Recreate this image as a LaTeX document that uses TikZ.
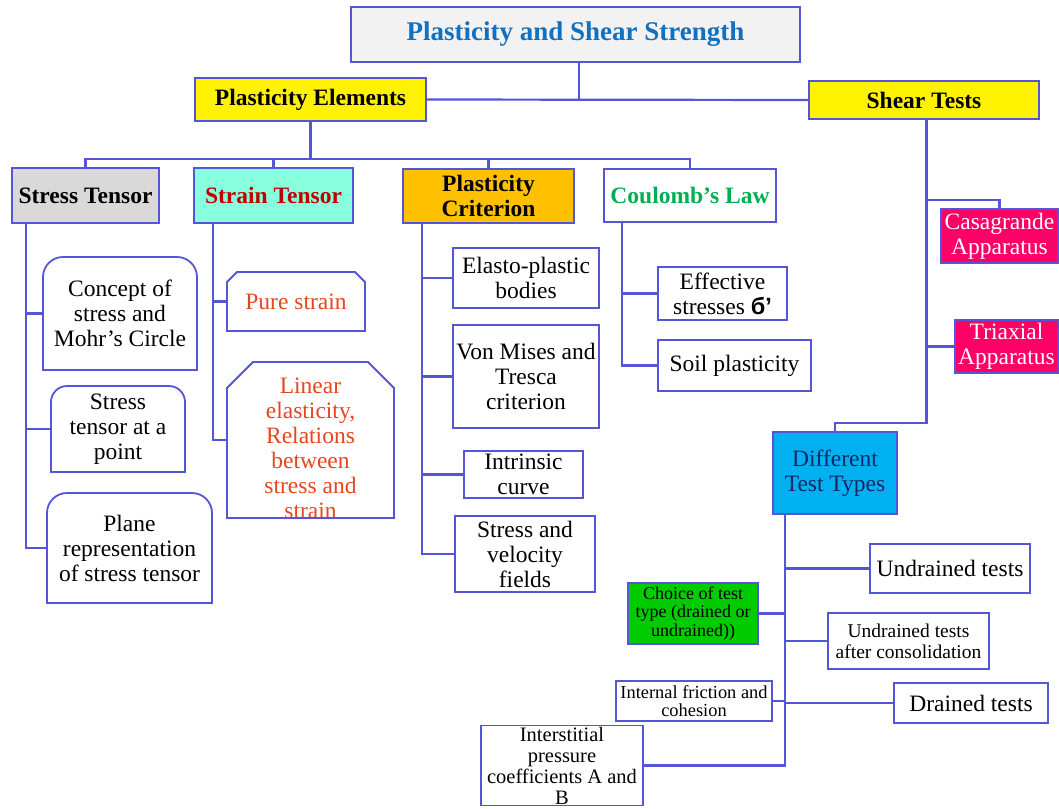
\documentclass[tikz,border=0pt]{standalone}
\usepackage{fontspec}
\setmainfont{Liberation Serif}
\newfontfamily\sansb{Liberation Sans}
\newcommand\fsz[2]{\fontsize{#1}{#2}\selectfont}
\definecolor{lineblue}{RGB}{85,85,215}
\definecolor{titlefill}{RGB}{242,242,242}
\definecolor{titleblue}{RGB}{18,112,192}
\definecolor{stressgray}{RGB}{217,217,217}
\definecolor{aquafill}{RGB}{136,255,221}
\definecolor{darkred}{RGB}{192,0,0}
\definecolor{critorange}{RGB}{255,192,0}
\definecolor{coulgreen}{RGB}{0,176,80}
\definecolor{strainred}{RGB}{230,70,30}
\definecolor{pinkred}{RGB}{255,0,102}
\definecolor{skyfill}{RGB}{0,176,240}
\definecolor{navytext}{RGB}{20,40,100}
\definecolor{brightgreen}{RGB}{0,204,0}
\newcommand\roundtop[2]{%
  \draw[boxline] (#1.south west) -- ([yshift=-#2pt]#1.north west)
    arc[start angle=180,end angle=90,radius=#2pt] -- ([xshift=-#2pt]#1.north east)
    arc[start angle=90,end angle=0,radius=#2pt] -- (#1.south east) -- cycle;}
\newcommand\chamtop[2]{%
  \draw[boxline] (#1.south west) -- ([yshift=-#2pt]#1.north west) -- ([xshift=#2pt]#1.north west)
    -- ([xshift=-#2pt]#1.north east) -- ([yshift=-#2pt]#1.north east) -- (#1.south east) -- cycle;}
\begin{document}
\begin{tikzpicture}[x=1pt,y=1pt,
  conn/.style={draw=lineblue, line width=2.2pt},
  boxline/.style={draw=lineblue, line width=1.8pt},
  box/.style={draw=lineblue, line width=1.8pt, fill=white, inner sep=0pt, outer sep=0pt, align=center, font=\fsz{23.5}{25}},
  shapebox/.style={draw=none, inner sep=0pt, outer sep=0pt, align=center, font=\fsz{23.5}{25}},
  hdr/.style={box, font=\bfseries\fsz{23.5}{25}}]
\fill[white] (0,0) rectangle (1059,-808);
\useasboundingbox (0,0) rectangle (1059,-808);

% top level
\node[hdr, fill=titlefill, text=titleblue, font=\bfseries\fsz{27}{29}, minimum width=449, minimum height=55] (title) at (575.5,-34.5) {Plasticity and Shear Strength};
\node[hdr, fill=yellow, minimum width=231, minimum height=43] (pe) at (310.5,-99.5) {Plasticity Elements};
\node[hdr, fill=yellow, minimum width=230, minimum height=38] (se) at (924,-100) {Shear Tests};

% second level
\node[hdr, fill=stressgray, minimum width=147, minimum height=55] (st) at (85.5,-195.5) {Stress Tensor};
\node[hdr, fill=aquafill, text=darkred, minimum width=159, minimum height=55] (sn) at (273.5,-195.5) {Strain Tensor};
\node[hdr, fill=critorange, minimum width=171, minimum height=54] (pc) at (488.5,-196) {Plasticity\\Criterion};
\node[hdr, text=coulgreen, minimum width=172, minimum height=53] (cl) at (690,-195.5) {Coulomb's Law};

% stress column
\node[shapebox, minimum width=154, minimum height=113] (concept) at (120,-313.5) {Concept of\\stress and\\Mohr's Circle};
\roundtop{concept}{20}
\node[shapebox, minimum width=134, minimum height=86] (spoint) at (118,-429) {Stress\\tensor at a\\point};
\roundtop{spoint}{16}
\node[shapebox, minimum width=165, minimum height=110] (plane) at (129.5,-548) {Plane\\representation\\of stress tensor};
\roundtop{plane}{20}

% strain column
\node[shapebox, text=strainred, minimum width=138, minimum height=59] (pure) at (296,-301.5) {Pure strain};
\chamtop{pure}{10}
\node[shapebox, minimum width=167, minimum height=156,
  label={[shapebox, text=strainred, yshift=-8pt]center:{Linear\\elasticity,\\Relations\\between\\stress and\\strain}}] (linear) at (310.5,-440) {};
\chamtop{linear}{26}

% criterion column
\node[box, minimum width=146, minimum height=60] (elasto) at (526,-278) {Elasto-plastic\\bodies};
\node[box, minimum width=146, minimum height=103] (vonmises) at (526,-376.5) {Von Mises and\\Tresca\\criterion};
\node[box, minimum width=119, minimum height=47] (intrinsic) at (523.5,-474.5) {Intrinsic\\curve};
\node[box, minimum width=140, minimum height=76] (svf) at (525,-554) {Stress and\\velocity\\fields};

% coulomb column
\node[box, minimum width=129, minimum height=53] (eff) at (722.5,-293.5) {Effective\\stresses {\sansb\bfseries б’}};
\node[box, minimum width=153, minimum height=51] (soil) at (734.5,-365.5) {Soil plasticity};

% shear tests
\node[box, fill=pinkred, text=white, minimum width=117, minimum height=54] (cas) at (999.5,-236) {Casagrande\\Apparatus};
\node[box, fill=pinkred, text=white, minimum width=103, minimum height=53] (tri) at (1006.5,-346.5) {Triaxial\\Apparatus};
\node[box, fill=skyfill, text=navytext, minimum width=124, minimum height=82] (dtt) at (835,-473) {Different\\Test Types};
\node[box, minimum width=160, minimum height=49] (und) at (950,-568.5) {Undrained tests};
\node[box, fill=brightgreen, font=\fsz{18}{18.5}, minimum width=130, minimum height=61] (choice) at (693,-613.5) {Choice of test\\type (drained or\\undrained))};
\node[box, font=\fsz{19.5}{21}, minimum width=161, minimum height=56] (uac) at (908.5,-641) {Undrained tests\\after consolidation};
\node[box, font=\fsz{18.4}{18.5}, minimum width=156, minimum height=40] (internal) at (694,-701) {Internal friction and\\cohesion};
\node[box, minimum width=154, minimum height=40] (drained) at (971,-703) {Drained tests};
\node[box, font=\fsz{20.5}{21}, minimum width=162, minimum height=80] (inter) at (562,-765.5) {Interstitial\\pressure\\coefficients A and\\B};

% connectors: top
\draw[conn] ([xshift=3.5pt]title.south) -- ([xshift=3.5pt]title.south |- pe.east);
\draw[conn] (pe.east) -- (se.west);
\draw[conn] (pe.south) -- ++(0,-38) -| (st.north);
\draw[conn] (pe.south) -- ++(0,-38) -| (sn.north);
\draw[conn] (pe.south) -- ++(0,-38) -| (pc.north);
\draw[conn] (pe.south) -- ++(0,-38) -| (cl.north);

% stress column
\draw[conn] ([xshift=14pt]st.south west) |- (plane.west);
\draw[conn] ([xshift=14pt]st.south west) |- (concept.west);
\draw[conn] ([xshift=14pt]st.south west) |- (spoint.west);
% strain column
\draw[conn] ([xshift=19pt]sn.south west) |- (linear.west);
\draw[conn] ([xshift=19pt]sn.south west) |- (pure.west);
% criterion column
\draw[conn] ([xshift=19pt]pc.south west) |- (svf.west);
\draw[conn] ([xshift=19pt]pc.south west) |- (elasto.west);
\draw[conn] ([xshift=19pt]pc.south west) |- (vonmises.west);
\draw[conn] ([xshift=19pt]pc.south west) |- (intrinsic.west);
% coulomb column
\draw[conn] ([xshift=18pt]cl.south west) |- (soil.west);
\draw[conn] ([xshift=18pt]cl.south west) |- (eff.west);

% shear tests
\draw[conn] ([xshift=2.5pt]se.south) -- ([xshift=2.5pt]se.south |- 0,-423) -| (dtt.north);
\draw[conn] ([xshift=2.5pt]se.south |- 0,-200) -| (cas.north);
\draw[conn] ([xshift=2.5pt]se.south |- tri.west) -- (tri.west);
% different test types
\draw[conn] ([xshift=12pt]dtt.south west) |- (inter.east);
\draw[conn] ([xshift=12pt]dtt.south west) |- (und.west);
\draw[conn] ([xshift=12pt]dtt.south west) |- (choice.east);
\draw[conn] ([xshift=12pt]dtt.south west) |- (uac.west);
\draw[conn] ([xshift=12pt]dtt.south west) |- (internal.east);
\draw[conn] ([xshift=12pt]dtt.south west) |- (drained.west);
\end{tikzpicture}
\end{document}
